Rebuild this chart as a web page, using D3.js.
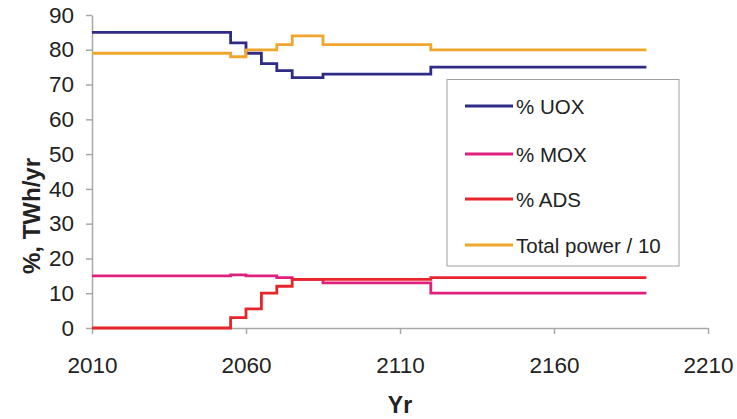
<!DOCTYPE html>
<html>
<head>
<meta charset="utf-8">
<script src="https://cdn.jsdelivr.net/npm/d3@7"></script>
<style>
  html, body { margin: 0; padding: 0; background: #fff; }
  svg text { font-family: "Liberation Sans", Arial, Helvetica, sans-serif; fill: #222; }
</style>
</head>
<body>
<svg id="chart" width="737" height="419"></svg>
<script>
// Step-change years and series values (value holds from that year onwards)
const uoxYears   = [2010, 2055, 2060, 2065, 2070, 2075, 2085, 2120, 2190];
const uoxValues  = [85,   82,   79,   76,   74,   72,   73,   75,   75];
const moxYears   = [2010, 2055, 2060, 2070, 2075, 2085, 2120, 2190];
const moxValues  = [15,   15.3, 15,   14.5, 14,   13,   10,   10];
const adsYears   = [2010, 2055, 2060, 2065, 2070, 2075, 2085, 2120, 2190];
const adsValues  = [0,    3,    5.5,  10,   12,   14,   14,   14.5, 14.5];
const powYears   = [2010, 2055, 2060, 2070, 2075, 2085, 2120, 2190];
const powValues  = [79,   78,   80,   81.5, 84,   81.5, 80,   80];

const seriesNames = ["% UOX", "% MOX", "% ADS", "Total power / 10"];
const xTicks = [2010, 2060, 2110, 2160, 2210];
const yTicks = [0, 10, 20, 30, 40, 50, 60, 70, 80, 90];
const xTitle = "Yr";
const yTitle = "%, TWh/yr";

const colors = {"% UOX": "#2f2c85", "% MOX": "#e0207f", "% ADS": "#e8252b", "Total power / 10": "#f0a62c"};

const series = [
  {name: seriesNames[0], years: uoxYears, values: uoxValues},
  {name: seriesNames[3], years: powYears, values: powValues},
  {name: seriesNames[1], years: moxYears, values: moxValues},
  {name: seriesNames[2], years: adsYears, values: adsValues}
];

const svg = d3.select("#chart");
const L = 92, R = 708, T = 15, B = 328;
const x = d3.scaleLinear().domain([2010, 2210]).range([L, R]);
const y = d3.scaleLinear().domain([0, 90]).range([B, T]);

// axes
const xAxis = d3.axisBottom(x).tickValues(xTicks).tickFormat(d3.format("d")).tickSizeInner(6).tickSizeOuter(0).tickPadding(23);
const gx = svg.append("g").attr("transform", `translate(0,${B})`).call(xAxis);
gx.select(".domain").attr("stroke", "#a8a8a8").attr("stroke-width", 1.5);
gx.selectAll(".tick line").attr("stroke", "#a8a8a8").attr("stroke-width", 1.5);
gx.selectAll(".tick text").attr("font-size", 22.5).attr("font-family", "Liberation Sans, Arial, sans-serif").attr("fill", "#222");

const yAxis = d3.axisLeft(y).tickValues(yTicks).tickSizeInner(6).tickSizeOuter(0).tickPadding(12);
const gy = svg.append("g").attr("transform", `translate(${L},0)`).call(yAxis);
gy.select(".domain").attr("stroke", "#a8a8a8").attr("stroke-width", 1.5);
gy.selectAll(".tick line").attr("stroke", "#a8a8a8").attr("stroke-width", 1.5);
gy.selectAll(".tick text").attr("font-size", 22.5).attr("font-family", "Liberation Sans, Arial, sans-serif").attr("fill", "#222");

// titles
svg.append("text").attr("x", (L + R) / 2).attr("y", 413).attr("text-anchor", "middle")
  .attr("font-size", 23).attr("font-weight", "bold").text(xTitle);
svg.append("text").attr("transform", `translate(40,216) rotate(-90)`)
  .attr("text-anchor", "middle").attr("font-size", 24).attr("font-weight", "bold").text(yTitle);

// lines
const line = d3.line().x(d => x(d[0])).y(d => y(d[1])).curve(d3.curveStepAfter);
series.forEach(s => {
  const pts = s.years.map((yr, i) => [yr, s.values[i]]);
  svg.append("path").datum(pts).attr("d", line)
    .attr("fill", "none").attr("stroke", colors[s.name]).attr("stroke-width", 2.8)
    .attr("stroke-linejoin", "miter");
});

// legend
const lg = svg.append("g");
lg.append("rect").attr("x", 447).attr("y", 79.5).attr("width", 232).attr("height", 186.5)
  .attr("fill", "#fff").attr("stroke", "#a0a0a0").attr("stroke-width", 1);
const rowY = [106, 154, 199, 245];
seriesNames.forEach((n, i) => {
  lg.append("line").attr("x1", 465).attr("x2", 513).attr("y1", rowY[i]).attr("y2", rowY[i])
    .attr("stroke", colors[n]).attr("stroke-width", 3);
  lg.append("text").attr("x", 516).attr("y", rowY[i] + 7.5).attr("font-size", 20.5).text(n);
});
</script>
</body>
</html>
